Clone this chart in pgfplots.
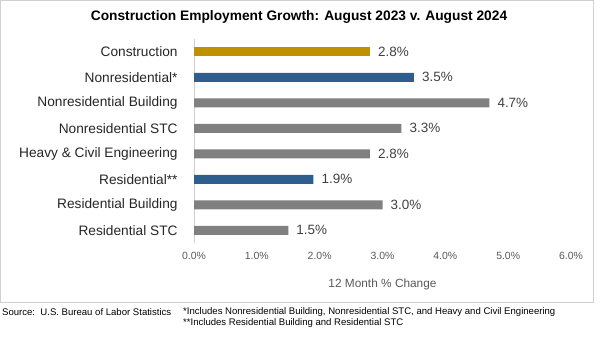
\documentclass[border=0pt]{standalone}
\usepackage{pgfplots}
\pgfplotsset{compat=1.18}
\usepackage{fontspec}
\setmainfont{Liberation Sans}
\definecolor{cgold}{HTML}{BF9000}
\definecolor{cblue}{HTML}{2E5E8E}
\definecolor{cgray}{HTML}{808080}
\definecolor{ctxt}{HTML}{404040}
\definecolor{ctick}{HTML}{595959}
\begin{document}
\begin{tikzpicture}[x=1bp,y=1bp]
\path[use as bounding box] (0,0) rectangle (600,339);
\draw[draw=black!18, line width=0.8bp] (0.5,37) rectangle (593.5,338.5);
\node[font=\bfseries\fontsize{13.8}{16}\selectfont, anchor=center] at (299,322) {Construction Employment Growth: August 2023 v. August 2024};
\begin{axis}[
  at={(194bp,96bp)}, anchor=south west,
  scale only axis, width=377bp, height=204bp,
  xmin=0, xmax=6, ymin=0.5, ymax=8.5, y dir=reverse,
  axis lines*=left,
  x axis line style={draw=none},
  y axis line style={draw=black!18, line width=0.8bp},
  tick style={draw=none},
  /pgf/number format/assume math mode=true,
  xtick={0,1,2,3,4,5,6},
  xticklabels={0.0\%,1.0\%,2.0\%,3.0\%,4.0\%,5.0\%,6.0\%},
  xticklabel style={font=\fontsize{10.5}{12}\selectfont, text=ctick, anchor=center, inner sep=0pt, yshift=-13bp},
  ytick={1,2,3,4,5,6,7,8},
  yticklabels={Construction,Nonresidential*,Nonresidential Building,Nonresidential STC,Heavy \& Civil Engineering,Residential**,Residential Building,Residential STC},
  yticklabel style={font=\fontsize{13.75}{15}\selectfont, text=black!85, anchor=east, inner sep=0pt, xshift=-12bp},
  xlabel={12 Month \% Change},
  xlabel style={at={(axis description cs:0.5,0)}, anchor=center, yshift=-41bp, font=\fontsize{11.9}{13}\selectfont, text=ctick},
  xbar, bar width=9bp, bar shift=0pt,
  nodes near coords={\pgfmathprintnumber[fixed,fixed zerofill,precision=1,assume math mode=true]{\pgfplotspointmeta}\%},
  nodes near coords style={font=\fontsize{13.5}{15}\selectfont, text=ctxt, anchor=west, inner sep=0pt, xshift=8bp},
  point meta=x,
  clip=false,
]
\addplot[fill=cgold, draw=none] coordinates {(2.8,1)};
\addplot[fill=cblue, draw=none] coordinates {(3.5,2) (1.9,6)};
\addplot[fill=cgray, draw=none] coordinates {(4.7,3) (3.3,4) (2.8,5) (3.0,7) (1.5,8)};
\end{axis}
\node[anchor=west, inner sep=0pt, font=\fontsize{9.6}{11}\selectfont] at (2,27) {Source:\ \ U.S. Bureau of Labor Statistics};
\node[anchor=west, inner sep=0pt, font=\fontsize{9.6}{11}\selectfont] at (183,27) {*Includes Nonresidential Building, Nonresidential STC, and Heavy and Civil Engineering};
\node[anchor=west, inner sep=0pt, font=\fontsize{9.6}{11}\selectfont] at (183,16) {**Includes Residential Building and Residential STC};
\end{tikzpicture}
\end{document}
